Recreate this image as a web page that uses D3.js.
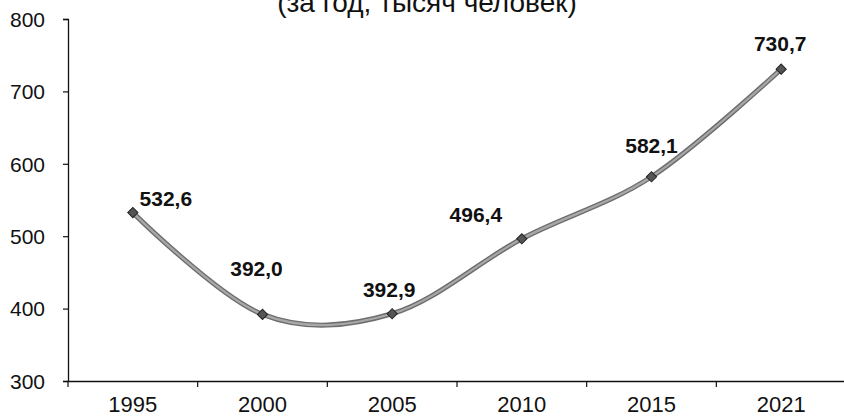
<!DOCTYPE html>
<html>
<head>
<meta charset="utf-8">
<script src="https://cdn.jsdelivr.net/npm/d3@7/dist/d3.min.js"></script>
<style>
  html, body { margin: 0; padding: 0; background: #fff; }
  svg { display: block; }
  text { font-family: "Liberation Sans", Arial, sans-serif; fill: #111; }
</style>
</head>
<body>
<svg id="chart" width="844" height="416"></svg>
<script>
// ---- data ----
const years = ["1995", "2000", "2005", "2010", "2015", "2021"];
const values = [532.6, 392.0, 392.9, 496.4, 582.1, 730.7];
const valueLabels = ["532,6", "392,0", "392,9", "496,4", "582,1", "730,7"];
const yTicks = [300, 400, 500, 600, 700, 800];
const titleText = "(за год, тысяч человек)";

// ---- layout ----
const plotLeft = 68, plotRight = 846, plotTop = 19, plotBottom = 381;
// label offsets from each point (layout, not data)
const labelDx = [33, -6, -3, -46, 0, -1];
const labelDy = [-7, -38, -17, -17, -24, -18];

const svg = d3.select("#chart");

const x = d3.scaleBand().domain(years).range([plotLeft, plotRight]).paddingInner(0).paddingOuter(0);
const y = d3.scaleLinear().domain([300, 800]).range([plotBottom, plotTop]);

// title (partially cut at top, as in the reference)
svg.append("text")
  .attr("x", 427).attr("y", 12)
  .attr("text-anchor", "middle")
  .style("font-size", "28px")
  .text(titleText);

// y axis
const yAxis = d3.axisLeft(y).tickValues(yTicks).tickSize(5).tickPadding(18).tickFormat(d3.format("d"));
const gy = svg.append("g").attr("transform", `translate(${plotLeft},0)`).call(yAxis);
gy.select(".domain").attr("stroke", "#111").attr("stroke-width", 1.3);
gy.selectAll(".tick line").attr("stroke", "#111").attr("stroke-width", 1.2);
gy.selectAll(".tick text").style("font-size", "21px").attr("fill", "#111").attr("dy", "0.35em");

// x axis
const xAxis = d3.axisBottom(x).tickSize(0).tickPadding(15);
const gx = svg.append("g").attr("transform", `translate(0,${plotBottom})`).call(xAxis);
gx.select(".domain").attr("stroke", "#111").attr("stroke-width", 1.3);
gx.selectAll(".tick text").style("font-size", "22px").attr("fill", "#111");
// tick marks at category boundaries
const boundaries = years.map(d => x(d)).concat([x(years[years.length - 1]) + x.bandwidth()]);
gx.selectAll(".btick").data(boundaries).enter().append("line")
  .attr("class", "btick")
  .attr("x1", d => d).attr("x2", d => d)
  .attr("y1", 0).attr("y2", 6)
  .attr("stroke", "#111").attr("stroke-width", 1.2);

// line
const pts = years.map((d, i) => [x(d) + x.bandwidth() / 2, y(values[i])]);
const line = d3.line().curve(d3.curveCatmullRom.alpha(0));
svg.append("path").attr("d", line(pts))
  .attr("fill", "none").attr("stroke", "#6e6e6e").attr("stroke-width", 5)
  .attr("stroke-linecap", "round");
svg.append("path").attr("d", line(pts))
  .attr("fill", "none").attr("stroke", "#a8a8a8").attr("stroke-width", 2.2);

// markers (square rotated 45° = Excel diamond)
const diamond = d3.symbol().type(d3.symbolSquare).size(52);
svg.selectAll(".mk").data(pts).enter().append("path")
  .attr("class", "mk")
  .attr("d", diamond)
  .attr("transform", d => `translate(${d[0]},${d[1]}) rotate(45)`)
  .attr("fill", "#555").attr("stroke", "#222").attr("stroke-width", 1);

// value labels
svg.selectAll(".vl").data(pts).enter().append("text")
  .attr("class", "vl")
  .attr("x", (d, i) => d[0] + labelDx[i])
  .attr("y", (d, i) => d[1] + labelDy[i])
  .attr("text-anchor", "middle")
  .style("font-size", "21px").style("font-weight", "bold")
  .text((d, i) => valueLabels[i]);
</script>
</body>
</html>
